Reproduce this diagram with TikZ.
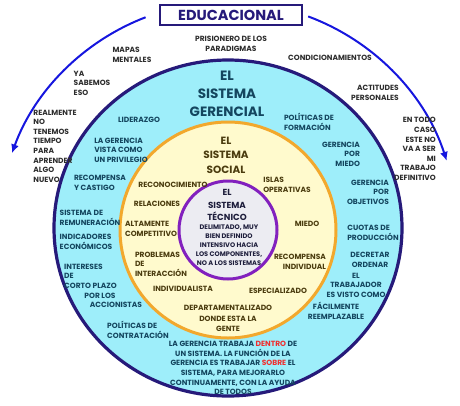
\documentclass[tikz,border=0pt]{standalone}
\usepackage{fontspec}
\setmainfont{Poppins}
\usepackage{xcolor}
\usetikzlibrary{arrows.meta}
\definecolor{ringnavy}{RGB}{38,26,122}
\definecolor{cyanfill}{RGB}{158,238,250}
\definecolor{ringorange}{RGB}{242,168,45}
\definecolor{yellowfill}{RGB}{255,250,205}
\definecolor{ringpurple}{RGB}{130,32,190}
\definecolor{grayfill}{RGB}{236,236,242}
\definecolor{arcblue}{RGB}{22,22,222}
\definecolor{txtgray}{RGB}{45,45,45}
\definecolor{txtteal}{RGB}{20,70,95}
\definecolor{txtolive}{RGB}{75,60,15}
\definecolor{txtnavy}{RGB}{30,30,60}
\definecolor{redword}{RGB}{240,45,45}
\newcommand{\red}[1]{\textcolor{redword}{#1}}

\begin{document}
\begin{tikzpicture}[x=1pt,y=-1pt,
  lbl/.style={inner sep=0pt,font=\fontsize{7.5}{9.6}\selectfont\bfseries},
  outtxt/.style={lbl,text=txtgray},
  gertxt/.style={lbl,text=txtteal},
  soctxt/.style={lbl,text=txtolive},
  tectxt/.style={inner sep=0pt,font=\fontsize{6.6}{9.1}\selectfont\bfseries,text=txtnavy,align=center},
  title/.style 2 args={inner sep=0pt,align=center,font=\fontsize{#1}{#2}\selectfont\bfseries},
  bluearc/.style={draw=arcblue,line width=2pt,-{Latex[length=9pt,width=8pt]}}
]
\useasboundingbox (0,0) rectangle (460,405);

\coordinate (mid) at (228,230);
\coordinate (arcc) at (228,232);
\draw[ringnavy,line width=3.2pt,fill=cyanfill] (228,228) ellipse[x radius=174,y radius=168];
\draw[ringorange,line width=3pt,fill=yellowfill] (mid) circle[radius=108];
\draw[ringpurple,line width=3pt,fill=grayfill] (mid) circle[radius=49];

\node[draw=ringnavy,line width=2.2pt,fill=white,minimum width=142pt,minimum height=20pt,
      font=\fontsize{14.5}{16}\selectfont\bfseries,text=ringnavy] (educ) at (231,15) {EDUCACIONAL};
\draw[bluearc] (arcc) ++(-111:230) arc[start angle=-111,end angle=-160,radius=230];
\draw[bluearc] (arcc) ++(-69.6:230) arc[start angle=-69.6,end angle=-18,radius=230];

\node[outtxt,align=left]   (mapas)   at (132,55)  {MAPAS\\MENTALES};
\node[outtxt,align=center] (prision) at (231,44)  {PRISIONERO DE LOS\\PARADIGMAS};
\node[outtxt,align=left]   (yasab)   at (92,83)   {YA\\SABEMOS\\ESO};
\node[outtxt]              (condic)  at (330,58)  {CONDICIONAMIENTOS};
\node[outtxt,align=right]  (actit)   at (375,93)  {ACTITUDES\\PERSONALES};
\node[outtxt,align=left]   (realm)   at (55,146)  {REALMENTE\\NO\\TENEMOS\\TIEMPO\\PARA\\APRENDER\\ALGO\\NUEVO};
\node[outtxt,align=right]  (entodo)  at (415,149) {EN TODO\\CASO\\ESTE NO\\VA A SER\\MI\\TRABAJO\\DEFINITIVO};

\node[title={13.5}{18},text=txtteal] (gertitle) at (227,94) {EL\\SISTEMA\\GERENCIAL};
\node[gertxt]              (lider)   at (139,120) {LIDERAZGO};
\node[gertxt,align=left]   (privil)  at (121,150) {LA GERENCIA\\VISTA COMO\\UN PRIVILEGIO};
\node[gertxt,align=left]   (castigo) at (100,183) {RECOMPENSA\\Y CASTIGO};
\node[gertxt,align=left]   (remun)   at (90,218)  {SISTEMA DE\\REMUNERACIÓN};
\node[gertxt,align=left]   (indic)   at (86,242)  {INDICADORES\\ECONÓMICOS};
\node[gertxt,align=left,anchor=west] (inter) at (64,276) {INTERESES\\DE\\CORTO PLAZO};
\node[gertxt]              (porlos)  at (100,296) {POR LOS};
\node[gertxt]              (accion)  at (116,305) {ACCIONISTAS};
\node[gertxt,align=left]   (contrat) at (138,330) {POLÍTICAS DE\\CONTRATACIÓN};
\node[gertxt,align=center] (dentro)  at (233,368) {LA GERENCIA TRABAJA \red{DENTRO} DE\\UN SISTEMA. LA FUNCIÓN DE LA\\GERENCIA ES TRABAJAR \red{SOBRE} EL\\SISTEMA, PARA MEJORARLO\\CONTINUAMENTE, CON LA AYUDA\\DE TODOS};
\node[gertxt,align=left]   (formac)  at (309,122) {POLÍTICAS DE\\FORMACIÓN};
\node[gertxt,align=right]  (gmiedo)  at (341,154) {GERENCIA\\POR\\MIEDO};
\node[gertxt,align=right]  (gobjet)  at (368,192) {GERENCIA\\POR\\OBJETIVOS};
\node[gertxt,align=left]   (cuotas)  at (373,233) {CUOTAS DE\\PRODUCCIÓN};
\node[gertxt,align=center] (decret)  at (370,260) {DECRETAR\\ORDENAR};
\node[gertxt,align=center] (trabaj)  at (356,285) {EL\\TRABAJADOR\\ES VISTO COMO};
\node[gertxt,align=center] (reempl)  at (336,311) {FÁCILMENTE\\REEMPLAZABLE};

\node[title={10.5}{14.5},text=txtolive] (soctitle) at (226,155) {EL\\SISTEMA\\SOCIAL};
\node[soctxt]              (recon)   at (173,185) {RECONOCIMIENTO};
\node[soctxt]              (relac)   at (157,204) {RELACIONES};
\node[soctxt,align=left]   (altam)   at (151,229) {ALTAMENTE\\COMPETITIVO};
\node[soctxt,align=left]   (proble)  at (161,264) {PROBLEMAS\\DE\\INTERACCIÓN};
\node[soctxt]              (indiv)   at (183,289) {INDIVIDUALISTA};
\node[soctxt]              (depart)  at (228,308) {DEPARTAMENTALIZADO};
\node[soctxt,align=center] (gente)   at (228,324) {DONDE ESTA LA\\GENTE};
\node[soctxt,align=left]   (islas)   at (287,185) {ISLAS\\OPERATIVAS};
\node[soctxt]              (miedo)   at (307,224) {MIEDO};
\node[soctxt,align=right]  (recind)  at (300,262) {RECOMPENSA\\INDIVIDUAL};
\node[soctxt]              (especi)  at (278,291) {ESPECIALIZADO};

\node[title={8.8}{12.5},text=txtnavy] (tectitle) at (227,205) {EL\\SISTEMA\\TÉCNICO};
\node[tectxt]              (delim)   at (229,245) {DELIMITADO, MUY\\BIEN DEFINIDO\\INTENSIVO HACIA\\LOS COMPONENTES,\\NO A LOS SISTEMAS};
\end{tikzpicture}
\end{document}
